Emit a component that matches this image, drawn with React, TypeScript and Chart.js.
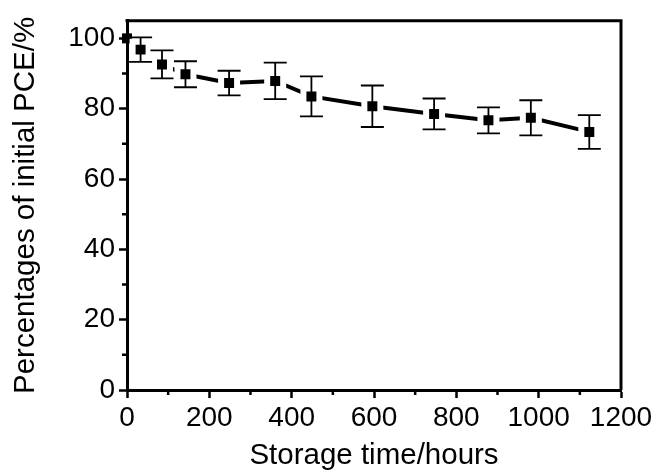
import React, { useEffect, useRef } from "react";
import { Chart, registerables } from "chart.js";

Chart.register(...registerables);

const hours = [0, 33, 85, 142, 248, 360, 448, 596, 746, 878, 981, 1123];
const pce = [100, 96.8, 92.6, 89.8, 87.3, 87.9, 83.5, 80.7, 78.5, 76.7, 77.4, 73.4];
const errs = [0, 3.5, 4.0, 3.7, 3.5, 5.2, 5.7, 5.9, 4.4, 3.7, 5.0, 4.8];
const xMajorTicks = [0, 200, 400, 600, 800, 1000, 1200];
const xMinorTicks = [100, 300, 500, 700, 900, 1100];
const yMajorTicks = [0, 20, 40, 60, 80, 100];
const yMinorTicks = [10, 30, 50, 70, 90];

const FONT = "'Liberation Sans', Arial, sans-serif";

const errorBarPlugin = {
  id: "errorBars",
  afterDatasetsDraw(chart: any) {
    const ctx = chart.ctx;
    const xs = chart.scales.x;
    const ys = chart.scales.y;
    ctx.save();
    ctx.strokeStyle = "#000";
    ctx.lineWidth = 1.8;
    hours.forEach((h, i) => {
      const e = errs[i];
      if (!e) return;
      const px = xs.getPixelForValue(h);
      const top = ys.getPixelForValue(pce[i] + e);
      const bot = ys.getPixelForValue(pce[i] - e);
      ctx.beginPath();
      ctx.moveTo(px, top);
      ctx.lineTo(px, bot);
      ctx.moveTo(px - 11.5, top);
      ctx.lineTo(px + 11.5, top);
      ctx.moveTo(px - 11.5, bot);
      ctx.lineTo(px + 11.5, bot);
      ctx.stroke();
    });
    ctx.restore();
  },
};

const framePlugin = {
  id: "frame",
  afterDraw(chart: any) {
    const ctx = chart.ctx;
    const { left, right, top, bottom } = chart.chartArea;
    const xs = chart.scales.x;
    const ys = chart.scales.y;
    ctx.save();
    ctx.strokeStyle = "#000";
    ctx.lineWidth = 3;
    ctx.beginPath();
    ctx.moveTo(left - 1.5, top);
    ctx.lineTo(right, top);
    ctx.lineTo(right, bottom);
    ctx.stroke();
    ctx.lineWidth = 2.5;
    ctx.beginPath();
    xMinorTicks.forEach((v) => {
      const px = xs.getPixelForValue(v);
      ctx.moveTo(px, bottom);
      ctx.lineTo(px, bottom + 5);
    });
    yMinorTicks.forEach((v) => {
      const py = ys.getPixelForValue(v);
      ctx.moveTo(left, py);
      ctx.lineTo(left - 5, py);
    });
    ctx.stroke();
    ctx.restore();
  },
};

export default function App() {
  const ref = useRef<HTMLCanvasElement | null>(null);

  useEffect(() => {
    if (!ref.current) return;
    const chart = new Chart(ref.current, {
      type: "line",
      data: {
        datasets: [
          {
            data: hours.map((h, i) => ({ x: h, y: pce[i] })),
            borderColor: "#000",
            borderWidth: 4,
            pointStyle: "rect",
            pointBackgroundColor: "#000",
            pointBorderColor: "#fff",
            pointRadius: (c: any) => (c.dataIndex === 0 ? 7.07 : 11.3),
            pointBorderWidth: (c: any) => (c.dataIndex === 0 ? 0 : 6),
            pointHoverRadius: (c: any) => (c.dataIndex === 0 ? 7.07 : 11.3),
            tension: 0,
            clip: false as any,
          },
        ],
      },
      options: {
        responsive: false,
        animation: false,
        events: [],
        layout: { padding: { top: 14, right: 36, left: 0, bottom: 0 } },
        plugins: {
          legend: { display: false },
          tooltip: { enabled: false },
        },
        scales: {
          x: {
            type: "linear",
            min: 0,
            max: 1200,
            afterFit: (s: any) => {
              s.height = 84;
            },
            afterBuildTicks: (s: any) => {
              s.ticks = xMajorTicks.map((v) => ({ value: v }));
            },
            grid: {
              drawOnChartArea: false,
              drawTicks: true,
              tickLength: 8,
              tickWidth: 2.5,
              tickColor: "#000",
            },
            border: { display: true, color: "#000", width: 3 },
            ticks: {
              color: "#000",
              padding: 3,
              maxRotation: 0,
              autoSkip: false,
              callback: (v: any) => String(v),
              font: { family: FONT, size: 28 },
            },
            title: {
              display: true,
              text: "Storage time/hours",
              color: "#000",
              font: { family: FONT, size: 29.5 },
              padding: { top: 0, bottom: 0 },
            },
          },
          y: {
            type: "linear",
            min: 0,
            max: 105,
            afterFit: (s: any) => {
              s.width = 127;
            },
            afterBuildTicks: (s: any) => {
              s.ticks = yMajorTicks.map((v) => ({ value: v }));
            },
            grid: {
              drawOnChartArea: false,
              drawTicks: true,
              tickLength: 8,
              tickWidth: 2.5,
              tickColor: "#000",
            },
            border: { display: true, color: "#000", width: 3 },
            ticks: {
              color: "#000",
              padding: 4,
              autoSkip: false,
              callback: (v: any) => String(v),
              font: { family: FONT, size: 28 },
            },
            title: {
              display: true,
              text: "Percentages of initial PCE/%",
              color: "#000",
              font: { family: FONT, size: 29.5 },
              padding: { top: 8, bottom: 0 },
            },
          },
        },
      },
      plugins: [errorBarPlugin, framePlugin],
    });
    return () => chart.destroy();
  }, []);

  return (
    <div style={{ position: "absolute", left: 0, top: 0, width: 657, height: 474, background: "#fff" }}>
      <canvas ref={ref} width={657} height={474} />
    </div>
  );
}
